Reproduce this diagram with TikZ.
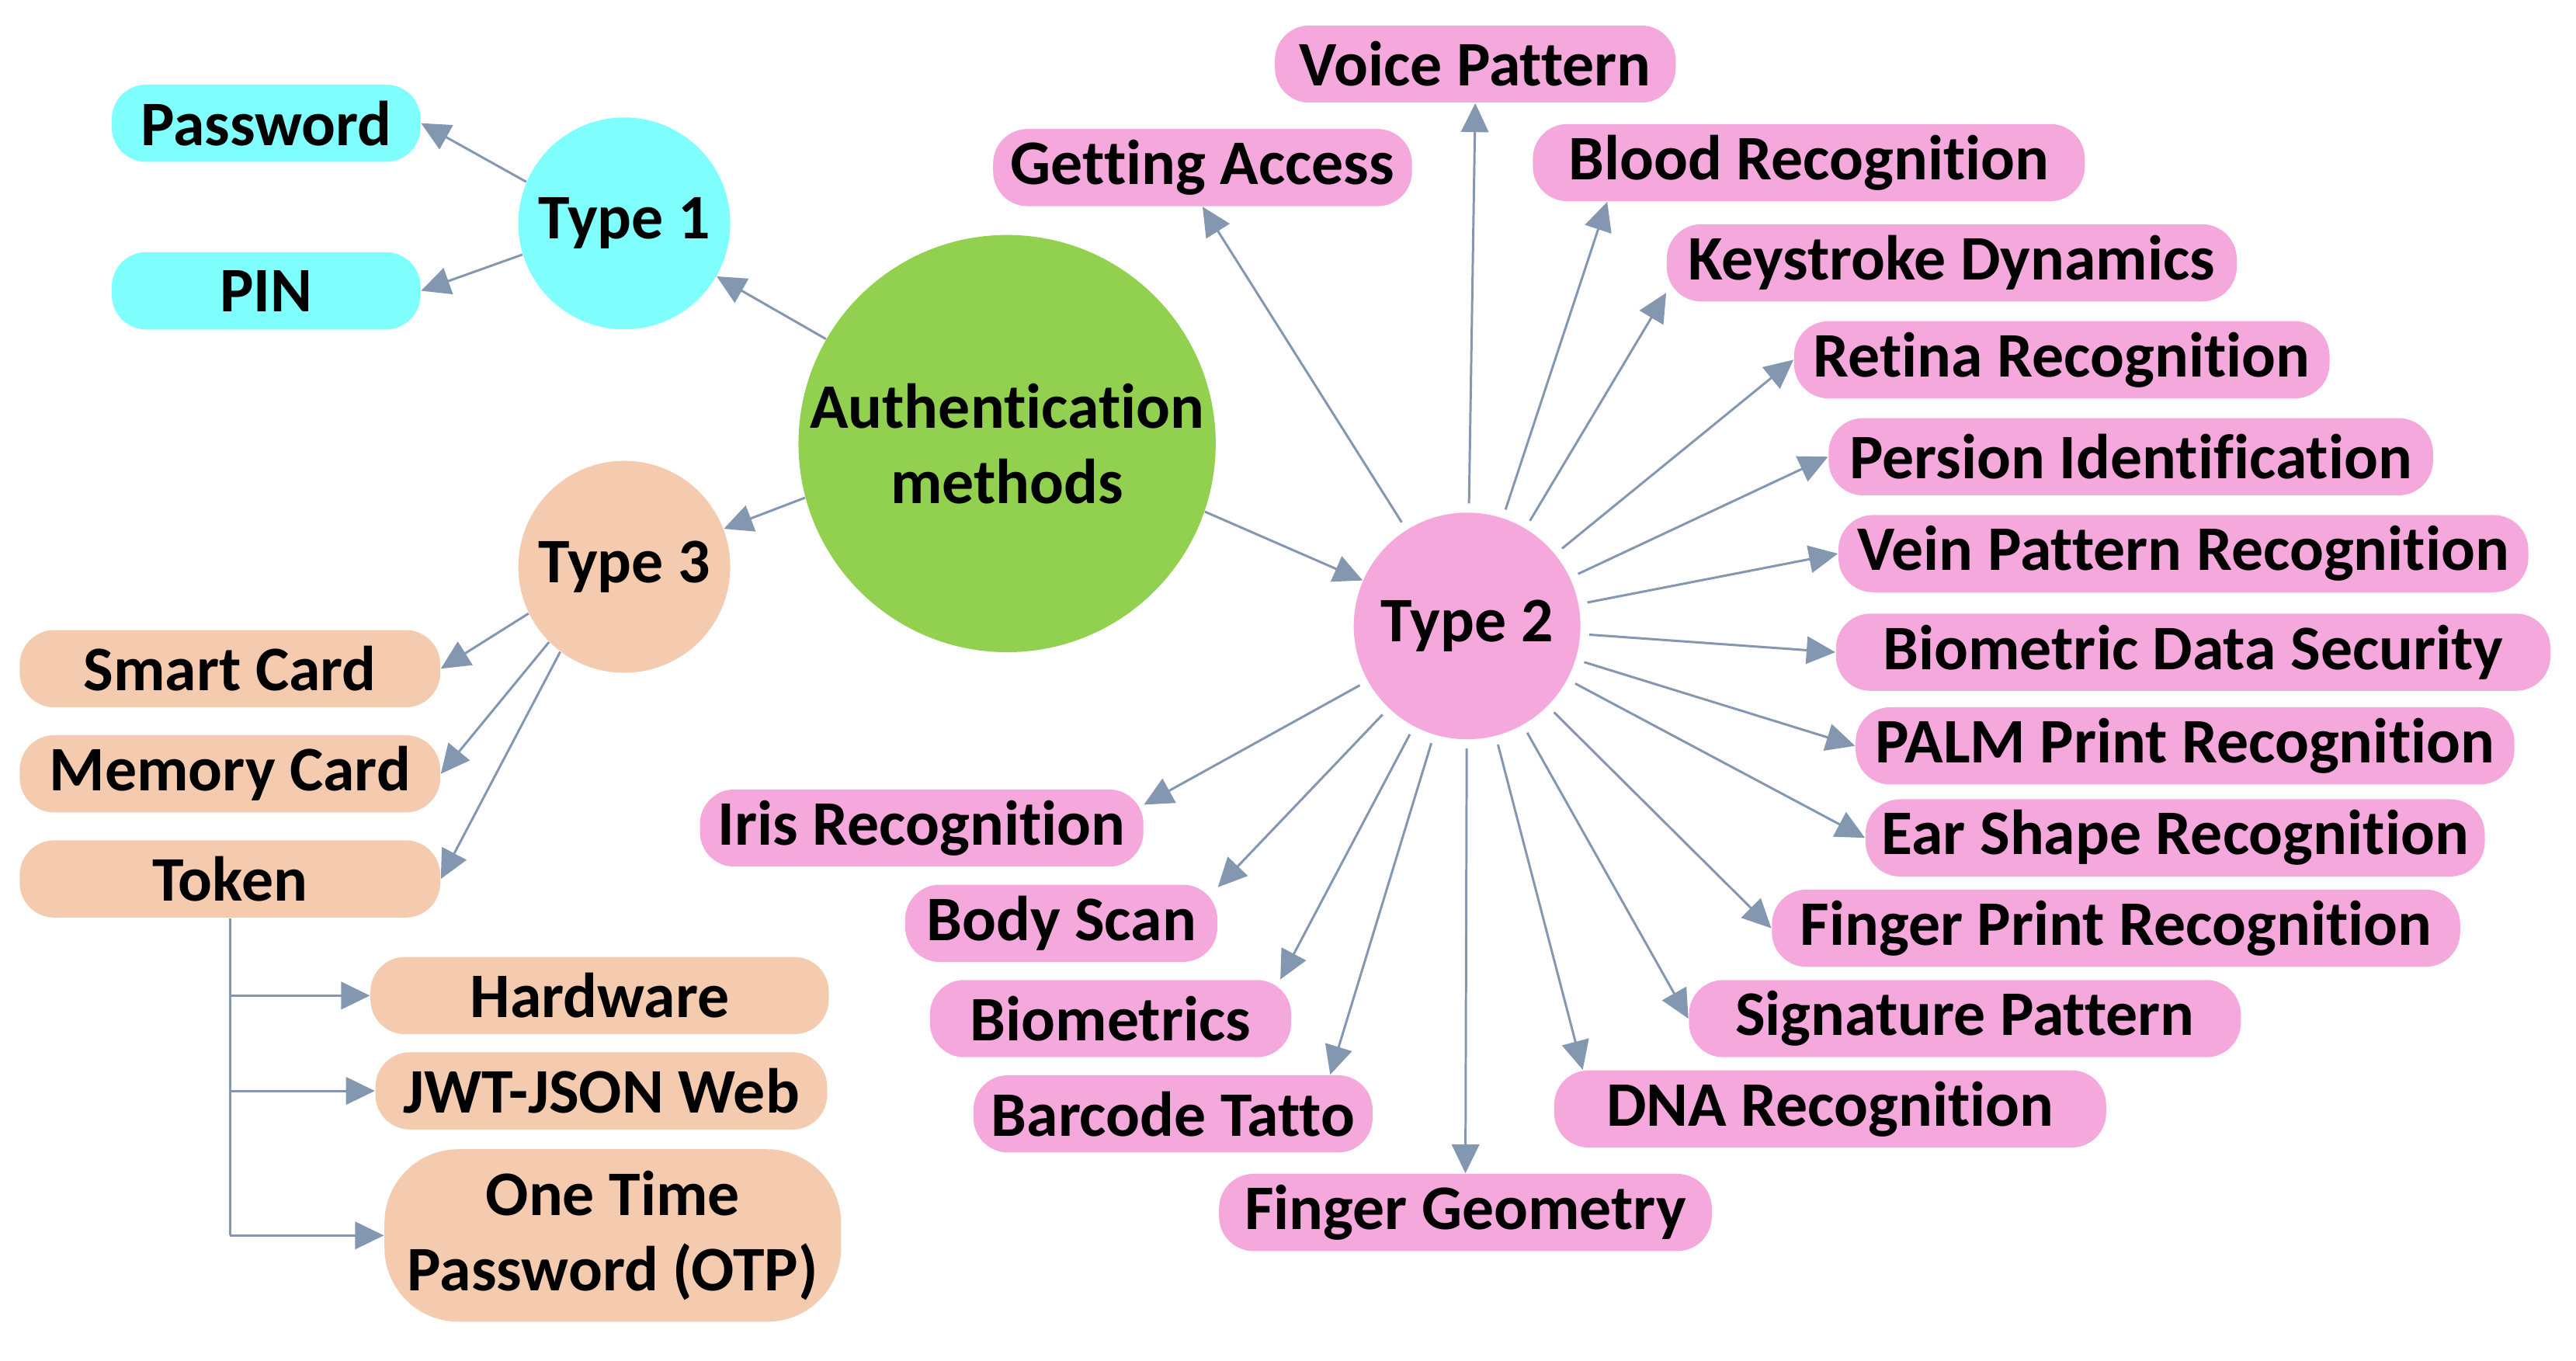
\documentclass[tikz,border=0pt]{standalone}
\usepackage{fontspec}
\setmainfont{Carlito}[Ligatures=NoCommon]
\usepackage{xcolor}
\usepackage{tikz}
\usetikzlibrary{arrows.meta}
\definecolor{cyanbox}{HTML}{80FFFF}
\definecolor{peachbox}{HTML}{F4CBAF}
\definecolor{pinkbox}{HTML}{F5A8DC}
\definecolor{greenbox}{HTML}{92D050}
\definecolor{linkc}{HTML}{8497B0}
\newcommand{\lbl}{\fontsize{22}{26}\selectfont\bfseries}

\begin{document}
\begin{tikzpicture}[x=0.02cm,y=-0.02cm,
  item/.style={rectangle,rounded corners=0.42cm,minimum height=0.94cm,inner sep=0pt,font=\lbl,align=center},
  hub/.style={circle,inner sep=0pt,font=\lbl,align=center},
  link/.style={draw=linkc,line width=0.8pt,-{Triangle[length=10pt,width=9.5pt]}},
  ray/.style={link,shorten <=3pt}]
\fill[white] (0,0) rectangle (1568,828);
\useasboundingbox (0,0) rectangle (1568,828);

%% centre and the three types
\node[hub,fill=greenbox,minimum size=5.08cm] (auth) at (613,270) {Authentication\\methods};
\node[hub,fill=cyanbox,minimum size=2.58cm] (t1) at (380,136) {Type 1};
\node[hub,fill=peachbox,minimum size=2.58cm] (t3) at (380,345) {Type 3};
\node[hub,fill=pinkbox,minimum size=2.76cm] (t2) at (893,381) {Type 2};

%% type 1
\node[item,fill=cyanbox,minimum width=3.76cm] (pwd) at (162,75) {Password};
\node[item,fill=cyanbox,minimum width=3.76cm] (pin) at (162,177) {PIN};

%% type 3
\node[item,fill=peachbox,minimum width=5.12cm] (smart) at (140,407) {Smart Card};
\node[item,fill=peachbox,minimum width=5.12cm] (mem) at (140,471) {Memory Card};
\node[item,fill=peachbox,minimum width=5.12cm] (token) at (140,535) {Token};
\node[item,fill=peachbox,minimum width=5.58cm] (hw) at (365,606) {Hardware};
\node[item,fill=peachbox,minimum width=5.5cm] (jwt) at (366,664) {JWT-JSON Web};
\node[item,fill=peachbox,minimum width=5.56cm,minimum height=2.1cm,rounded corners=0.9cm] (otp) at (373,752) {One Time\\Password (OTP)};

%% type 2
\node[item,fill=pinkbox,minimum width=4.88cm] (voice) at (898,39) {Voice Pattern};
\node[item,fill=pinkbox,minimum width=5.10cm] (access) at (732,102) {Getting Access};
\node[item,fill=pinkbox,minimum width=6.72cm] (blood) at (1101,99) {Blood Recognition};
\node[item,fill=pinkbox,minimum width=6.94cm] (keys) at (1188,160) {Keystroke Dynamics};
\node[item,fill=pinkbox,minimum width=6.52cm] (retina) at (1255,219) {Retina Recognition};
\node[item,fill=pinkbox,minimum width=7.36cm] (persion) at (1297,278) {Persion Identification};
\node[item,fill=pinkbox,minimum width=8.40cm] (vein) at (1329,337) {Vein Pattern Recognition};
\node[item,fill=pinkbox,minimum width=8.70cm] (bds) at (1335,397) {Biometric Data Security};
\node[item,fill=pinkbox,minimum width=8.02cm] (palm) at (1330,454) {PALM Print Recognition};
\node[item,fill=pinkbox,minimum width=7.54cm] (ear) at (1324,510) {Ear Shape Recognition};
\node[item,fill=pinkbox,minimum width=8.38cm] (fprint) at (1288,565) {Finger Print Recognition};
\node[item,fill=pinkbox,minimum width=6.72cm] (sign) at (1196,620) {Signature Pattern};
\node[item,fill=pinkbox,minimum width=6.72cm] (dna) at (1114,675) {DNA Recognition};
\node[item,fill=pinkbox,minimum width=6.00cm] (fgeo) at (892,738) {Finger Geometry};
\node[item,fill=pinkbox,minimum width=4.86cm] (barcode) at (714,678) {Barcode Tatto};
\node[item,fill=pinkbox,minimum width=4.40cm] (biom) at (676,620) {Biometrics};
\node[item,fill=pinkbox,minimum width=3.80cm] (body) at (646,562) {Body Scan};
\node[item,fill=pinkbox,minimum width=5.40cm] (iris) at (561,504) {Iris Recognition};

%% arrows
\draw[link] (auth.150) -- (t1);
\draw[link] (auth.195) -- (t3);
\draw[link] (auth.341) -- (t2);
\draw[link] (t1.157) -- (pwd.east);
\draw[link] (t1.197) -- (pin.east);
%%
\draw[link] (t3.206) -- (smart.east);
\draw[link] (t3.225) -- (mem.east);
\draw[link] (t3.233) -- (token.east);
\draw[linkc,line width=0.8pt] (token.south) -- (token.south |- otp.west);
\draw[link] (token.south |- hw.west) -- (hw.west);
\draw[link] (token.south |- jwt.west) -- (jwt.west);
\draw[link] (token.south |- otp.west) -- (otp.west);
%%
\draw[ray] (t2) -- (voice.south);
\draw[ray] (t2) -- (access.south);
\draw[ray] (t2) -- (blood.191);
\draw[ray] (t2) -- (keys.186);
\draw[ray] (t2) -- (retina.west);
\draw[ray] (t2) -- (persion.west);
\draw[ray] (t2) -- (vein.west);
\draw[ray] (t2) -- (bds.west);
\draw[ray] (t2) -- (palm.west);
\draw[ray] (t2) -- (ear.west);
\draw[ray] (t2) -- (fprint.west);
\draw[ray] (t2) -- (sign.west);
\draw[ray] (t2) -- (dna.171);
\draw[ray] (t2) -- (fgeo.north);
\draw[ray] (t2) -- (barcode.14);
\draw[ray] (t2) -- (biom.13);
\draw[ray] (t2) -- (body.13);
\draw[ray] (t2) -- (iris.6);
\end{tikzpicture}
\end{document}
